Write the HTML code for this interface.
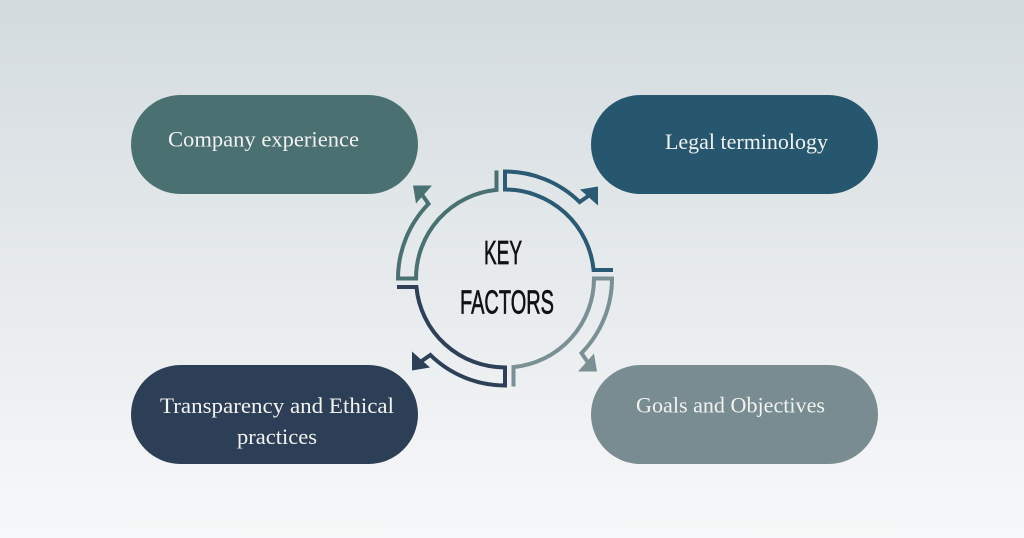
<!DOCTYPE html>
<html>
<head>
<meta charset="utf-8">
<style>
  html, body { margin: 0; padding: 0; }
  body { width: 1024px; height: 538px; overflow: hidden; }
  svg { display: block; }
</style>
</head>
<body>
<svg width="1024" height="538" viewBox="0 0 1024 538" xmlns="http://www.w3.org/2000/svg">
  <defs>
    <linearGradient id="bg" x1="0" y1="0" x2="0" y2="1">
      <stop offset="0" stop-color="#d3dbdf"/>
      <stop offset="0.5" stop-color="#e6eaec"/>
      <stop offset="1" stop-color="#f7f8f9"/>
    </linearGradient>
  </defs>
  <rect x="0" y="0" width="1024" height="538" fill="url(#bg)"/>

  <!-- Pills -->
  <rect x="131" y="95" width="287" height="99" rx="49.5" ry="49.5" fill="#4b7071"/>
  <rect x="591" y="95" width="287" height="99" rx="49.5" ry="49.5" fill="#27566f"/>
  <rect x="131" y="365" width="287" height="99" rx="49.5" ry="49.5" fill="#2d3f56"/>
  <rect x="591" y="365" width="287" height="99" rx="49.5" ry="49.5" fill="#788c91"/>

  <!-- Pill labels -->
  <g font-family="'Liberation Serif', serif" font-size="22" fill="#f2f2f0">
    <text x="168" y="146.5" textLength="191" lengthAdjust="spacingAndGlyphs">Company experience</text>
    <text x="665" y="149" textLength="163" lengthAdjust="spacingAndGlyphs">Legal terminology</text>
    <text x="636" y="412.5" textLength="189" lengthAdjust="spacingAndGlyphs">Goals and Objectives</text>
    <text x="160" y="413" textLength="234" lengthAdjust="spacingAndGlyphs">Transparency and Ethical</text>
    <text x="237" y="444" textLength="80" lengthAdjust="spacingAndGlyphs">practices</text>
  </g>

  <!-- Ring segments -->
  <g transform="translate(505,278.5)">
    <g stroke="#2b5a74" fill="none" stroke-width="4" stroke-linejoin="miter">
      <path d="M108,-8.5 L88.6,-8.5 A89,89 0 0 0 0,-89 L0,-107 A107,107 0 0 1 74.6,-76.5 L84,-83"/>
      <polygon points="93,-92 75,-89 93,-73" fill="#2b5a74" stroke="none"/>
    </g>
    <g transform="rotate(90)" stroke="#7b9095" fill="none" stroke-width="4" stroke-linejoin="miter">
      <path d="M108,-8.5 L88.6,-8.5 A89,89 0 0 0 0,-89 L0,-107 A107,107 0 0 1 74.6,-76.5 L84,-83"/>
      <polygon points="93,-92 75,-89 93,-73" fill="#7b9095" stroke="none"/>
    </g>
    <g transform="rotate(180)" stroke="#2e4057" fill="none" stroke-width="4" stroke-linejoin="miter">
      <path d="M108,-8.5 L88.6,-8.5 A89,89 0 0 0 0,-89 L0,-107 A107,107 0 0 1 74.6,-76.5 L84,-83"/>
      <polygon points="93,-92 75,-89 93,-73" fill="#2e4057" stroke="none"/>
    </g>
    <g transform="rotate(270)" stroke="#4a7172" fill="none" stroke-width="4" stroke-linejoin="miter">
      <path d="M108,-8.5 L88.6,-8.5 A89,89 0 0 0 0,-89 L0,-107 A107,107 0 0 1 74.6,-76.5 L84,-83"/>
      <polygon points="93,-92 75,-89 93,-73" fill="#4a7172" stroke="none"/>
    </g>
  </g>

  <!-- Center label -->
  <g font-family="'Liberation Sans', sans-serif" font-size="33.5" fill="#111111" stroke="#111111" stroke-width="0.7">
    <text x="484" y="264" textLength="38" lengthAdjust="spacingAndGlyphs">KEY</text>
    <text x="460" y="313.3" textLength="94" lengthAdjust="spacingAndGlyphs">FACTORS</text>
  </g>
</svg>
</body>
</html>
